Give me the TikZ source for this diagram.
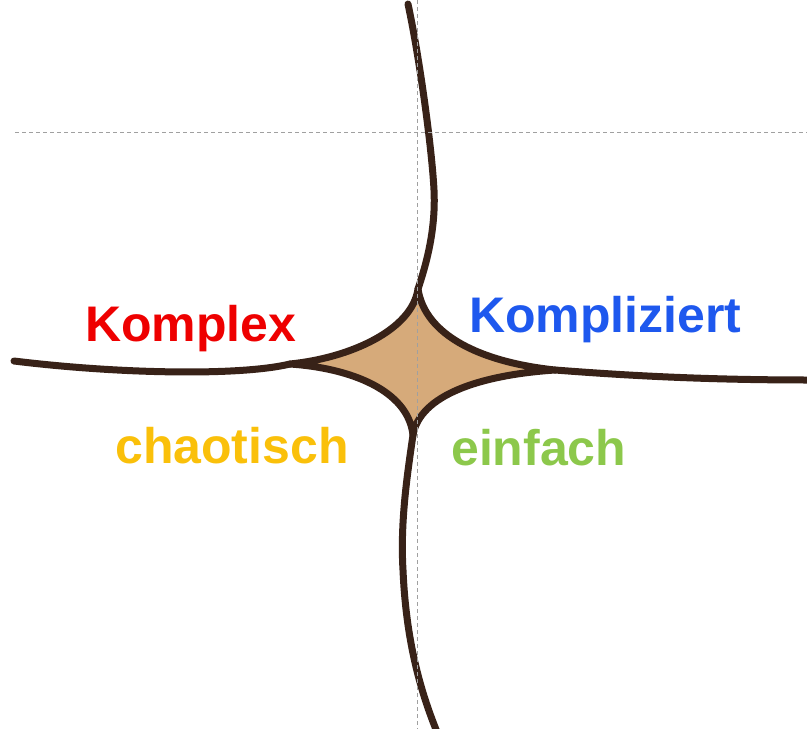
\documentclass[tikz,border=0pt]{standalone}
\usepackage{fontspec}
\setmainfont{Liberation Sans}
\definecolor{rim}{RGB}{56,34,24}
\definecolor{core}{RGB}{214,170,122}
\definecolor{guide}{RGB}{160,160,160}
\definecolor{cred}{RGB}{238,0,0}
\definecolor{cblue}{RGB}{30,88,238}
\definecolor{cyellow}{RGB}{250,192,10}
\definecolor{cgreen}{RGB}{140,200,75}
\tikzset{
  boundary/.style={draw=rim, line width=7pt, line cap=round, line join=round},
  guideline/.style={draw=guide, line width=0.9pt, dash pattern=on 4pt off 3pt},
  domainlabel/.style={font=\fontsize{50}{50}\selectfont\bfseries, inner sep=0pt, anchor=base west},
}
\begin{document}
\begin{tikzpicture}[x=1pt, y=-1pt]
  \useasboundingbox (0,0) rectangle (807,729);
  % tips of the central disorder area
  \coordinate (T) at (418,289);
  \coordinate (L) at (290,364);
  \coordinate (B) at (413,435);
  \coordinate (R) at (555,370);
  % central area
  \path[boundary, fill=core] (T) .. controls (412,330) and (350,358) .. (L)
      .. controls (350,368) and (408,390) .. (B)
      .. controls (420,395) and (480,375) .. (R)
      .. controls (480,362) and (425,335) .. (T) -- cycle;
  % the four boundaries leaving the centre
  \path[boundary] (T) .. controls (426,265) and (436,230) .. (434,190)
      .. controls (432,150) and (420,60) .. (408,4);
  \path[boundary] (L) .. controls (240,376) and (120,374) .. (14,361);
  \path[boundary] (R) .. controls (620,375) and (700,380) .. (810,380);
  \path[boundary] (B) .. controls (408,470) and (400,520) .. (403,570)
      .. controls (406,640) and (420,690) .. (437,732);
  % guide lines
  \coordinate (hl) at (15,132);
  \coordinate (hr) at (807,132);
  \coordinate (vt) at (417,0);
  \coordinate (vb) at (417,729);
  \draw[guideline] (hl) -- (hr);
  \draw[guideline] (vt) -- (vb);
  % domain labels
  \node[domainlabel, text=cred]    (komplex)     at (85,341)  {Komplex};
  \node[domainlabel, text=cblue]   (kompliziert) at (469,332) {Kompliziert};
  \node[domainlabel, text=cyellow] (chaotisch)   at (115,463) {chaotisch};
  \node[domainlabel, text=cgreen]  (einfach)     at (451,465) {einfach};
\end{tikzpicture}
\end{document}
